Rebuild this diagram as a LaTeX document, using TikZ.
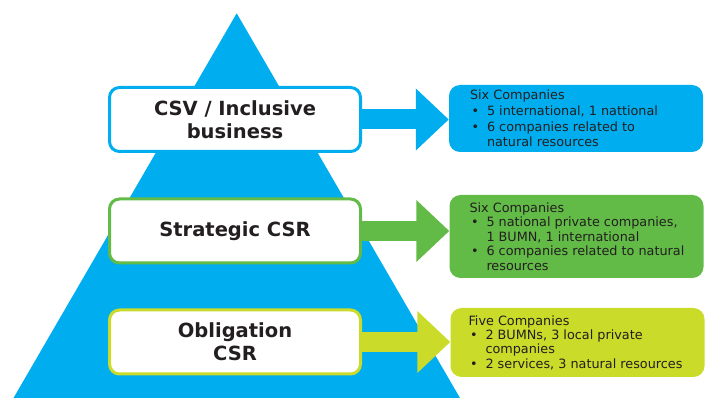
\documentclass[tikz,border=0pt]{standalone}
\usepackage{fontspec}
\setmainfont{DejaVu Sans}
\usetikzlibrary{positioning,arrows.meta}

\definecolor{cblue}{RGB}{0,174,239}
\definecolor{cgreen}{RGB}{98,187,70}
\definecolor{clime}{RGB}{202,219,42}
\definecolor{ctext}{RGB}{35,31,32}

\pgfdeclarelayer{background}
\pgfsetlayers{background,main}

\tikzset{
  level/.style={draw=#1, fill=white, line width=3pt, rounded corners=10pt,
    minimum width=251pt, minimum height=64pt, align=center,
    font=\fontsize{19.5}{22.8}\selectfont\bfseries, text=ctext},
  infobox/.style={fill=#1, rounded corners=11pt, minimum width=254pt},
  infotext/.style={inner sep=0pt, align=left, text=ctext,
    font=\fontsize{12.8}{14.4}\selectfont},
  pointer/.style={line width=20pt, draw=#1, -{Triangle[length=33pt,width=60pt]}}
}
% bullet with hanging indent
\newcommand{\itm}{\hspace*{1.5pt}\makebox[15.5pt][l]{•}}
\newcommand{\cnt}{\hspace*{17pt}}

\begin{document}
\begin{tikzpicture}[x=1pt,y=-1pt]
  \useasboundingbox (0,0) rectangle (705,398);

  % the three levels, top to bottom
  \node[level=cblue] (csv) at (235,119.5) {CSV / Inclusive\\business};
  \node[level=cgreen] (strat) at (235,231) {Strategic CSR};
  \node[level=clime] (oblig) at (235,342) {Obligation\\CSR};

  % the company counts on the right
  \node[infobox=cblue, minimum height=67pt] (info1) at (576,118.5) {};
  \node[infotext, font=\fontsize{12.8}{15.6}\selectfont,
    right=21pt of info1.west] (txt1)
    {Six Companies\\
     \itm 5 international, 1 nattional\\
     \itm 6 companies related to\\
     \cnt natural resources};
  \node[infobox=cgreen, minimum height=83pt] (info2) at (576.5,236.5) {};
  \node[infotext, right=20pt of info2.west] (txt2)
    {Six Companies\\
     \itm 5 national private companies,\\
     \cnt 1 BUMN, 1 international\\
     \itm 6 companies related to natural\\
     \cnt resources};
  \node[infobox=clime, minimum height=69pt] (info3) at (577.5,342.5) {};
  \node[infotext, right=18pt of info3.west] (txt3)
    {Five Companies\\
     \itm 2 BUMNs, 3 local private\\
     \cnt companies\\
     \itm 2 services, 3 natural resources};

  \begin{pgfonlayer}{background}
    % pyramid behind everything
    \fill[cblue] (236.7,13.3) -- (13.5,398) -- (460,398) -- cycle;
    % fat arrows from each level to its box
    \draw[pointer=cblue] (csv.east) -- (csv.east -| info1.west);
    \draw[pointer=cgreen] (strat.east) -- (strat.east -| info2.west);
    \draw[pointer=clime] (oblig.east) -- (oblig.east -| info3.west);
  \end{pgfonlayer}
\end{tikzpicture}
\end{document}
